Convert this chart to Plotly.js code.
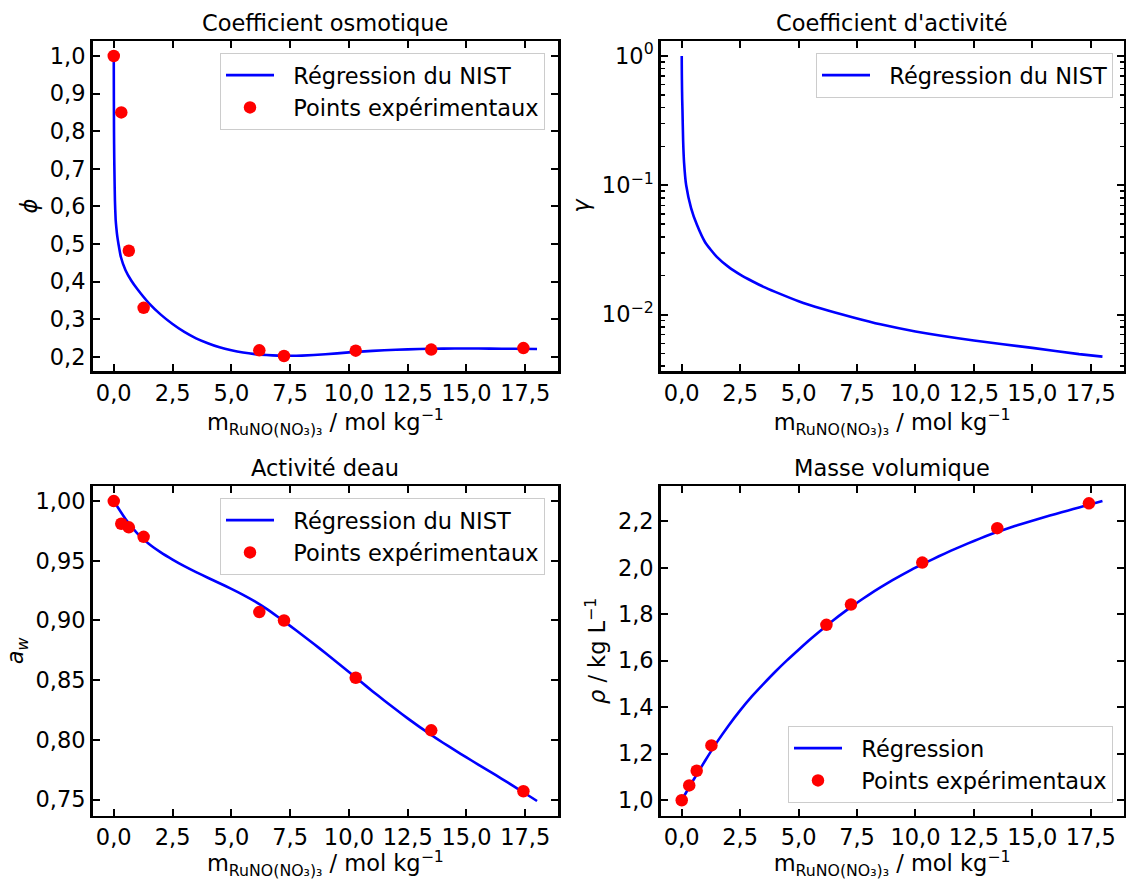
<!DOCTYPE html>
<html>
<head>
<meta charset="utf-8">
<script src="https://cdn.plot.ly/plotly-3.0.1.min.js"></script>
<style>html,body{margin:0;padding:0;background:#fff;}</style>
</head>
<body>
<div id="chart" style="width:1126px;height:880px;"></div>
<script>
// Experimental points
const xExp = [0, 0.32, 0.64, 1.27, 6.19, 7.24, 10.29, 13.5, 17.42];
const phiExp = [1.0, 0.850, 0.482, 0.330, 0.217, 0.202, 0.216, 0.219, 0.223];
const awExp = [1.0, 0.981, 0.978, 0.970, 0.907, 0.900, 0.852, 0.808, 0.757];
const rhoExp = [0.999, 1.063, 1.126, 1.235, 1.754, 1.841, 2.022, 2.170, 2.277];

// NIST regression: osmotic coefficient
const xPhi = [0, 0.005, 0.01, 0.02, 0.03, 0.05, 0.08, 0.11, 0.15, 0.2, 0.3, 0.5, 0.75, 1.0, 1.5, 2.0, 2.5, 3.0, 3.5, 4.0, 4.5, 5.0, 5.5, 6.0, 6.5, 7.0, 7.5, 8, 9, 10, 11, 12, 13, 14, 15, 16, 17, 18];
const phiFit = [1.0, 0.88, 0.80, 0.73, 0.686, 0.615, 0.565, 0.543, 0.52, 0.50, 0.466, 0.43, 0.402, 0.38, 0.342, 0.312, 0.287, 0.266, 0.249, 0.236, 0.225, 0.217, 0.211, 0.207, 0.2045, 0.203, 0.2025, 0.203, 0.2065, 0.2115, 0.2155, 0.2185, 0.2205, 0.2215, 0.222, 0.2215, 0.221, 0.2205];

// NIST regression: activity coefficient
const xGam = [0, 0.002, 0.005, 0.01, 0.02, 0.03, 0.06, 0.1, 0.19, 0.4, 0.65, 1.0, 1.25, 1.5, 2.0, 2.5, 3.0, 3.5, 4.0, 5.0, 6.0, 7.3, 8.5, 10, 12.5, 15, 17, 18];
const gamFit = [1.0, 0.85, 0.72, 0.6, 0.46, 0.39, 0.22, 0.15, 0.10, 0.0667, 0.0495, 0.0363, 0.0316, 0.0280, 0.0234, 0.0204, 0.0182, 0.0164, 0.0150, 0.0127, 0.0111, 0.00955, 0.00841, 0.00741, 0.00631, 0.00553, 0.00495, 0.00473];

// NIST regression: water activity
const xAw = [0, 0.5, 1.0, 1.5, 2.0, 2.5, 3.0, 3.5, 4.0, 4.5, 5.0, 5.5, 6.0, 6.5, 7.0, 7.5, 8.0, 8.5, 9.0, 9.5, 10.0, 10.5, 11.0, 11.5, 12.0, 12.5, 13.0, 13.5, 14.0, 14.5, 15.0, 15.5, 16.0, 16.5, 17.0, 17.5, 18.0];
const awFit = [1.0, 0.985, 0.973, 0.964, 0.957, 0.951, 0.9455, 0.9405, 0.9358, 0.9312, 0.9265, 0.9215, 0.916, 0.9097, 0.9027, 0.8955, 0.888, 0.8805, 0.8727, 0.8648, 0.8568, 0.8488, 0.8408, 0.833, 0.8254, 0.818, 0.8109, 0.8041, 0.7976, 0.7914, 0.7853, 0.7793, 0.7734, 0.7674, 0.7613, 0.7551, 0.7488];

// Density regression
const xRho = [0, 0.5, 1.0, 1.5, 2.0, 2.5, 3.0, 3.5, 4.0, 4.5, 5.0, 5.5, 6.0, 6.5, 7.0, 7.5, 8.0, 8.5, 9.0, 9.5, 10.0, 10.5, 11.0, 11.5, 12.0, 12.5, 13.0, 13.5, 14.0, 14.5, 15.0, 15.5, 16.0, 16.5, 17.0, 17.5, 18.0];
const rhoFit = [1.0, 1.086, 1.169, 1.248, 1.320, 1.386, 1.446, 1.500, 1.552, 1.601, 1.647, 1.692, 1.734, 1.775, 1.813, 1.849, 1.883, 1.915, 1.945, 1.973, 2.000, 2.025, 2.049, 2.072, 2.094, 2.115, 2.135, 2.154, 2.171, 2.187, 2.202, 2.217, 2.231, 2.245, 2.259, 2.273, 2.287];

const titles = ["Coefficient osmotique", "Coefficient d'activité", "Activité deau", "Masse volumique"];
const labelFit = "Régression du NIST";
const labelFit2 = "Régression";
const labelExp = "Points expérimentaux";
const xTitle = "m<sub>RuNO(NO₃)₃</sub> / mol kg<sup>−1</sup>";

const W = 1126, H = 880;
const FONT = "DejaVu Sans, sans-serif";
const FS = 22.5;
const BLUE = "#0000ff", RED = "#ff0000";
const PAD = "\u00a0\u00a0";

const L = [92.6/W, 558.2/W];
const R = [660.7/W, 1123.5/W];
const T = [1 - 371/H, 1 - 41/H];
const B = [1 - 815.7/H, 1 - 486/H];

function fnt() { return {family: FONT, size: FS, color: 'black'}; }

function axisBase(extra) {
  return Object.assign({
    showline: true, linewidth: 2.5, linecolor: 'black', mirror: 'allticks',
    ticks: 'inside', ticklen: 7, tickwidth: 2, tickcolor: 'black',
    showgrid: false, zeroline: false, automargin: false,
    tickfont: fnt()
  }, extra);
}
function xAx(domain, anchor) {
  return axisBase({domain: domain, anchor: anchor, range: [-0.9, 18.9], tick0: 0, dtick: 2.5, tickformat: '.1f',
    title: {text: xTitle, font: fnt(), standoff: 1}});
}

const lineStyle = {color: BLUE, width: 2.6};
const markerStyle = {color: RED, size: 12.5};

const traces = [
  {x: xPhi, y: phiFit, mode: 'lines', line: Object.assign({shape: 'spline', smoothing: 0.5}, lineStyle), name: PAD + labelFit, xaxis: 'x', yaxis: 'y', legend: 'legend'},
  {x: xExp, y: phiExp, mode: 'markers', marker: markerStyle, name: PAD + labelExp, xaxis: 'x', yaxis: 'y', legend: 'legend'},
  {x: xGam, y: gamFit, mode: 'lines', line: Object.assign({shape: 'spline', smoothing: 0.5}, lineStyle), name: PAD + labelFit, xaxis: 'x2', yaxis: 'y2', legend: 'legend2'},
  {x: xAw, y: awFit, mode: 'lines', line: Object.assign({shape: 'spline', smoothing: 0.5}, lineStyle), name: PAD + labelFit, xaxis: 'x3', yaxis: 'y3', legend: 'legend3'},
  {x: xExp, y: awExp, mode: 'markers', marker: markerStyle, name: PAD + labelExp, xaxis: 'x3', yaxis: 'y3', legend: 'legend3'},
  {x: xRho, y: rhoFit, mode: 'lines', line: Object.assign({shape: 'spline', smoothing: 0.5}, lineStyle), name: PAD + labelFit2, xaxis: 'x4', yaxis: 'y4', legend: 'legend4'},
  {x: xExp, y: rhoExp, mode: 'markers', marker: markerStyle, name: PAD + labelExp, xaxis: 'x4', yaxis: 'y4', legend: 'legend4'}
];

function legendBox(x, y, yanchor) {
  return {x: x, y: y, xanchor: 'right', yanchor: yanchor, xref: 'paper', yref: 'paper',
    bgcolor: 'rgba(255,255,255,0.8)', bordercolor: '#cccccc', borderwidth: 1,
    font: fnt(), itemwidth: 48, tracegroupgap: 0};
}

const minorLog = [];
[0.001, 0.01, 0.1].forEach(function (d) { for (let k = 2; k <= 9; k++) minorLog.push(k * d); });

const layout = {
  width: W, height: H,
  margin: {l: 0, r: 0, t: 0, b: 0},
  paper_bgcolor: 'white', plot_bgcolor: 'white',
  separators: ', ',
  font: fnt(),
  showlegend: true,
  xaxis: xAx(L, 'y'),
  yaxis: axisBase({domain: T, anchor: 'x', range: [0.162, 1.04], tick0: 0, dtick: 0.1, tickformat: '.1f',
    title: {text: '<i>ϕ</i>', font: fnt(), standoff: 6}}),
  xaxis2: xAx(R, 'y2'),
  yaxis2: axisBase({domain: T, anchor: 'x2', type: 'log', range: [-2.436, 0.116],
    tickmode: 'array', tickvals: [0.01, 0.1, 1], ticktext: ['10<sup>−2</sup>', '10<sup>−1</sup>', '10<sup>0</sup>'],
    minor: {tickmode: 'array', tickvals: minorLog, ticks: 'inside', ticklen: 4, tickwidth: 1.5, tickcolor: 'black', showgrid: false},
    title: {text: '<i>γ</i>', font: fnt(), standoff: 6}}),
  xaxis3: xAx(L, 'y3'),
  yaxis3: axisBase({domain: B, anchor: 'x3', range: [0.7365, 1.0126], tick0: 0, dtick: 0.05, tickformat: '.2f',
    title: {text: '<i>a<sub>w</sub></i>', font: fnt(), standoff: 6}}),
  xaxis4: xAx(R, 'y4'),
  yaxis4: axisBase({domain: B, anchor: 'x4', range: [0.9325, 2.3515], tick0: 0, dtick: 0.2, tickformat: '.1f',
    title: {text: '<i>ρ</i> / kg L<sup>−1</sup>', font: fnt(), standoff: 6}}),
  legend: legendBox(545/W, 1 - 53/H, 'top'),
  legend2: legendBox(1113/W, 1 - 53/H, 'top'),
  legend3: legendBox(545/W, 1 - 498/H, 'top'),
  legend4: legendBox(1113/W, 1 - 803/H, 'bottom'),
  annotations: [
    {text: titles[0], x: (L[0]+L[1])/2, y: 1 - 23/H},
    {text: titles[1], x: (R[0]+R[1])/2, y: 1 - 23/H},
    {text: titles[2], x: (L[0]+L[1])/2, y: 1 - 468/H},
    {text: titles[3], x: (R[0]+R[1])/2, y: 1 - 468/H}
  ].map(function (a) {
    return Object.assign({xref: 'paper', yref: 'paper', xanchor: 'center', yanchor: 'middle', showarrow: false,
      font: fnt()}, a);
  })
};

Plotly.newPlot('chart', traces, layout, {staticPlot: true, displayModeBar: false});
</script>
</body>
</html>
